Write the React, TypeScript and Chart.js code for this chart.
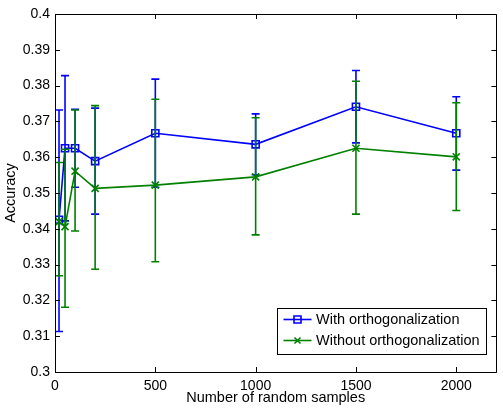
import React, { useEffect, useRef } from "react";
import { Chart, registerables } from "chart.js";

Chart.register(...registerables);

const samples = [20, 50, 100, 200, 500, 1000, 1500, 2000];

const withOrthoMean = [0.3425, 0.3625, 0.3625, 0.3589, 0.3667, 0.3636, 0.3741, 0.3667];
const withOrthoLow = [0.3113, 0.3422, 0.3516, 0.3441, 0.3516, 0.3551, 0.364, 0.3564];
const withOrthoHigh = [0.3732, 0.3828, 0.3734, 0.3737, 0.3818, 0.3721, 0.3842, 0.3769];

const withoutOrthoMean = [0.342, 0.3406, 0.3561, 0.3513, 0.3522, 0.3545, 0.3625, 0.3601];
const withoutOrthoLow = [0.3269, 0.3181, 0.3394, 0.3287, 0.3308, 0.3383, 0.3441, 0.3451];
const withoutOrthoHigh = [0.3585, 0.3622, 0.3732, 0.3744, 0.3762, 0.371, 0.3812, 0.3752];

const xTicks = [0, 500, 1000, 1500, 2000];
const yTicks = [0.3, 0.31, 0.32, 0.33, 0.34, 0.35, 0.36, 0.37, 0.38, 0.39, 0.4];

const seriesNames = ["With orthogonalization", "Without orthogonalization"];

const BLUE = "#0000ff";
const GREEN = "#008000";
const FONT = "'Liberation Sans', Arial, Helvetica, sans-serif";

const errLows = [withOrthoLow, withoutOrthoLow];
const errHighs = [withOrthoHigh, withoutOrthoHigh];
const colors = [BLUE, GREEN];
const markers = ["rect", "crossRot"];

const errorBarPlugin = {
  id: "errorBars",
  beforeDatasetDraw(chart: any, args: any) {
    const i = args.index;
    const { ctx, scales, chartArea } = chart;
    const xs = scales.x;
    const ys = scales.y;
    ctx.save();
    ctx.beginPath();
    ctx.rect(chartArea.left, chartArea.top, chartArea.right - chartArea.left, chartArea.bottom - chartArea.top);
    ctx.clip();
    ctx.strokeStyle = colors[i];
    ctx.lineWidth = 1.6;
    const cap = 4;
    samples.forEach((s, j) => {
      const px = xs.getPixelForValue(s);
      const lo = ys.getPixelForValue(errLows[i][j]);
      const hi = ys.getPixelForValue(errHighs[i][j]);
      ctx.beginPath();
      ctx.moveTo(px, lo);
      ctx.lineTo(px, hi);
      ctx.moveTo(px - cap, lo);
      ctx.lineTo(px + cap, lo);
      ctx.moveTo(px - cap, hi);
      ctx.lineTo(px + cap, hi);
      ctx.stroke();
    });
    ctx.restore();
  },
};

const frameTicksPlugin = {
  id: "frameTicks",
  afterDraw(chart: any) {
    const { ctx, chartArea, scales } = chart;
    const { left, right, top, bottom } = chartArea;
    const len = 5;
    ctx.save();
    ctx.strokeStyle = "#000";
    ctx.lineWidth = 1;
    ctx.beginPath();
    ctx.rect(Math.round(left) + 0.5, Math.round(top) + 0.5, Math.round(right - left), Math.round(bottom - top));
    ctx.stroke();
    ctx.beginPath();
    yTicks.forEach((v) => {
      const py = Math.round(scales.y.getPixelForValue(v)) + 0.5;
      ctx.moveTo(left, py);
      ctx.lineTo(left + len, py);
      ctx.moveTo(right, py);
      ctx.lineTo(right - len, py);
    });
    xTicks.forEach((v) => {
      const px = Math.round(scales.x.getPixelForValue(v)) + 0.5;
      ctx.moveTo(px, bottom);
      ctx.lineTo(px, bottom - len);
      ctx.moveTo(px, top);
      ctx.lineTo(px, top + len);
    });
    ctx.stroke();

    // legend box
    const bx = 277.5, by = 308.5, bw = 209, bh = 46;
    ctx.fillStyle = "#fff";
    ctx.fillRect(bx, by, bw, bh);
    ctx.strokeStyle = "#000";
    ctx.lineWidth = 1;
    ctx.strokeRect(bx, by, bw, bh);
    const rows = [319.5, 340.5];
    ctx.font = `14.5px ${FONT}`;
    ctx.textBaseline = "middle";
    ctx.textAlign = "left";
    seriesNames.forEach((name, i) => {
      const ry = rows[i];
      ctx.strokeStyle = colors[i];
      ctx.lineWidth = 1.6;
      ctx.beginPath();
      ctx.moveTo(283.5, ry);
      ctx.lineTo(311.5, ry);
      ctx.stroke();
      const cx = 297.5;
      ctx.beginPath();
      if (i === 0) {
        ctx.rect(cx - 3.5, ry - 3.5, 7, 7);
      } else {
        ctx.moveTo(cx - 3, ry - 3);
        ctx.lineTo(cx + 3, ry + 3);
        ctx.moveTo(cx - 3, ry + 3);
        ctx.lineTo(cx + 3, ry - 3);
      }
      ctx.stroke();
      ctx.fillStyle = "#000";
      ctx.fillText(name, 316, ry + 0.5);
    });
    ctx.restore();
  },
};

export default function App() {
  const ref = useRef<HTMLCanvasElement>(null);
  useEffect(() => {
    if (!ref.current) return;
    const means = [withOrthoMean, withoutOrthoMean];
    const chart = new Chart(ref.current, {
      type: "line",
      data: {
        datasets: means.map((m, i) => ({
          label: seriesNames[i],
          data: samples.map((s, j) => ({ x: s, y: m[j] })),
          borderColor: colors[i],
          backgroundColor: "transparent",
          borderWidth: 1.6,
          pointStyle: markers[i] as any,
          pointRadius: 5,
          pointBorderWidth: 1.6,
          pointBorderColor: colors[i],
          pointBackgroundColor: "transparent",
          tension: 0,
          fill: false,
          order: i === 0 ? 1 : 0,
        })),
      },
      options: {
        responsive: false,
        animation: false,
        events: [],
        layout: { padding: { left: 0, right: 3, top: 14, bottom: 0 } },
        plugins: {
          legend: { display: false },
          tooltip: { enabled: false },
        },
        scales: {
          x: {
            type: "linear",
            min: 0,
            max: 2200,
            grid: { display: false, drawTicks: false },
            border: { display: false },
            afterBuildTicks: (scale: any) => {
              scale.ticks = xTicks.map((v) => ({ value: v }));
            },
            afterFit: (scale: any) => {
              scale.height = 38;
            },
            ticks: {
              autoSkip: false,
              maxRotation: 0,
              padding: 6,
              color: "#000",
              font: { family: FONT, size: 14 },
              callback: (v: any) => String(v),
            },
            title: {
              display: true,
              text: "Number of random samples",
              color: "#000",
              font: { family: FONT, size: 14.5 },
              padding: { top: 0, bottom: 3 },
            },
          },
          y: {
            type: "linear",
            min: 0.3,
            max: 0.4,
            grid: { display: false, drawTicks: false },
            border: { display: false },
            afterBuildTicks: (scale: any) => {
              scale.ticks = yTicks.map((v) => ({ value: v }));
            },
            afterFit: (scale: any) => {
              scale.width = 55;
            },
            ticks: {
              autoSkip: false,
              padding: 5,
              color: "#000",
              font: { family: FONT, size: 14 },
              callback: (v: any) => String(parseFloat(Number(v).toFixed(2))),
            },
            title: {
              display: true,
              text: "Accuracy",
              color: "#000",
              font: { family: FONT, size: 14.5 },
              padding: { top: 2, bottom: 0 },
            },
          },
        },
      },
      plugins: [errorBarPlugin, frameTicksPlugin],
    });
    return () => chart.destroy();
  }, []);
  return (
    <canvas
      ref={ref}
      width={503}
      height={410}
      style={{ position: "absolute", left: 0, top: 0, display: "block", background: "#fff" }}
    />
  );
}
